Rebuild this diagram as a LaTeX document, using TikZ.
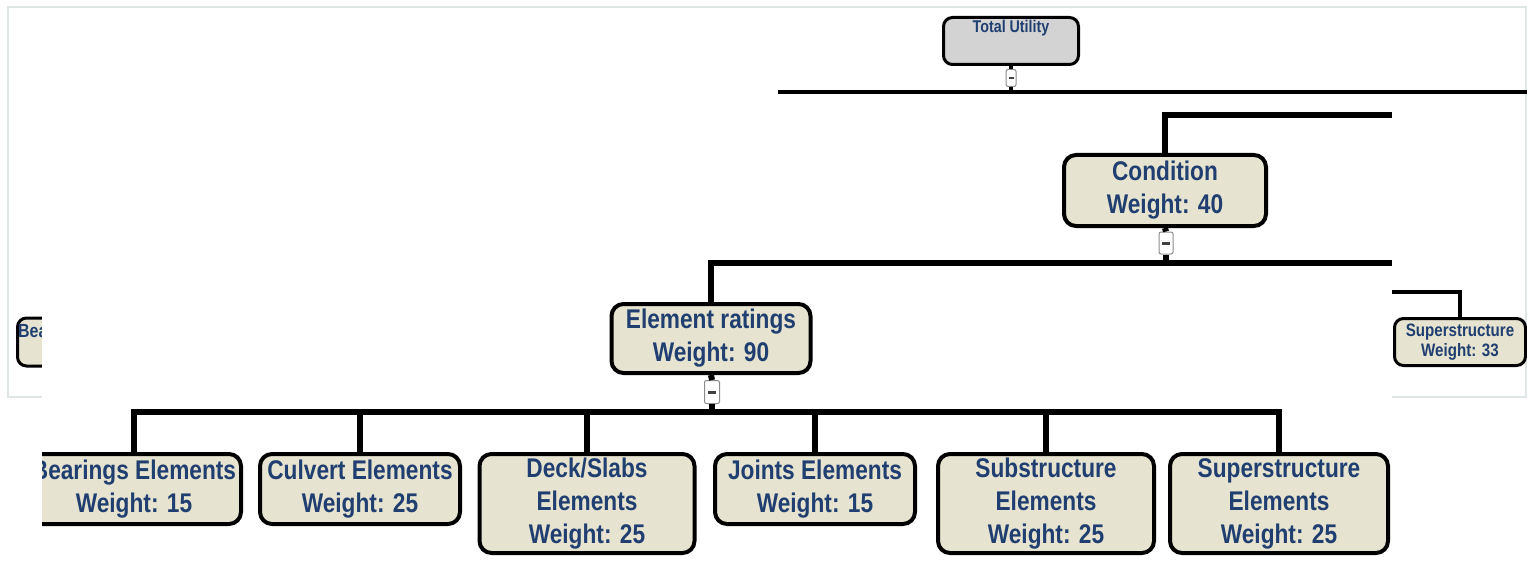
\documentclass[tikz,border=0pt]{standalone}
\usepackage{fontspec}
\newfontfamily\boxfont[FakeStretch=0.84]{Liberation Sans}
\definecolor{boxfill}{RGB}{230,228,208}
\definecolor{tufill}{RGB}{211,211,211}
\definecolor{lblblue}{RGB}{32,62,112}
\definecolor{framegray}{RGB}{222,230,230}
\usetikzlibrary{positioning}

\begin{document}
\begin{tikzpicture}[x=1pt,y=-1pt,
  bignode/.style={draw, line width=4pt, rounded corners=12pt, fill=boxfill, text=lblblue, align=center, inner sep=0pt, font=\boxfont\bfseries\fontsize{27}{33}\selectfont},
  smallnode/.style={draw, line width=3pt, rounded corners=9pt, fill=boxfill, text=lblblue, align=center, inner sep=0pt, font=\boxfont\bfseries\fontsize{18}{20}\selectfont},
  toggle/.style={draw=black!45, line width=1pt, fill=white, rounded corners=2pt, inner sep=0pt},
  thinbar/.style={line width=3.5pt},
  thickbar/.style={line width=6pt}]
\useasboundingbox (0,0) rectangle (1527,567);
\clip (0,0) rectangle (1527,567);

% screenshot behind
\draw[framegray, line width=2pt] (8,7) rectangle (1526,397);
\node[smallnode, fill=tufill, minimum width=135pt, minimum height=47pt] (total) at (1011,41) {};
\node[text=lblblue, inner sep=1pt, font=\boxfont\bfseries\fontsize{17}{20}\selectfont, below=3pt of total.north] (totaltext) {Total Utility};
\node[toggle, minimum width=10pt, minimum height=17pt] (togtotal) at (1011,78) {\color{black!75}\rule{5pt}{2pt}};
\coordinate (tubarL) at (778,92);
\coordinate (tubarR) at (1527,92);
\draw[thinbar] (tubarL) -- (tubarR);
\draw[thinbar] (total.south) -- (togtotal.north);
\draw[thinbar] (togtotal.south) -- (togtotal.south |- tubarL);

\node[smallnode, minimum width=80pt, minimum height=48pt, anchor=west] (bea) at (16,342) {};
\node[text=lblblue, inner sep=0pt, anchor=west, font=\boxfont\bfseries\fontsize{19}{20}\selectfont] (beatext) at (18,331) {Bea};

\node[smallnode, minimum width=131pt, minimum height=47pt] (supsm) at (1460,342) {Superstructure\\Weight: 33};
\coordinate (supsmL) at (1392,292);
\draw[line width=4.5pt] (supsmL) -| (supsm.north);

% zoomed part on top
\begin{scope}
\clip (42,100) rectangle (1392,567);
\fill[white] (42,100) rectangle (1392,567);

\node[bignode, minimum width=202pt, minimum height=71pt] (cond) at (1165,190.5) {Condition\\Weight: 40};
\node[toggle, minimum width=14pt, minimum height=22pt] (togcond) at (1166,243) {\color{black!75}\rule{8pt}{3pt}};
\node[bignode, minimum width=199pt, minimum height=69pt] (er) at (711,338.5) {Element ratings\\Weight: 90};
\node[toggle, minimum width=15pt, minimum height=23pt] (toger) at (712,392) {\color{black!75}\rule{8pt}{3pt}};

\node[bignode, minimum width=214pt, minimum height=70pt] (bear) at (134,489) {Bearings Elements\\Weight: 15};
\node[bignode, minimum width=200pt, minimum height=70pt] (culv) at (360,489) {Culvert Elements\\Weight: 25};
\node[bignode, minimum width=215pt, minimum height=99pt] (deck) at (587,503.5) {Deck/Slabs\\Elements\\Weight: 25};
\node[bignode, minimum width=200pt, minimum height=70pt] (joint) at (815,489) {Joints Elements\\Weight: 15};
\node[bignode, minimum width=216pt, minimum height=99pt] (subel) at (1046,503.5) {Substructure\\Elements\\Weight: 25};
\node[bignode, minimum width=218pt, minimum height=99pt] (supel) at (1279,503.5) {Superstructure\\Elements\\Weight: 25};

\coordinate (condR) at (1392,115);
\coordinate (erbarR) at (1392,263);
\coordinate (elbar) at (712,412);
\draw[thickbar] (cond.north) |- (condR);
\draw[thickbar] (cond.south) -- (togcond.north);
\draw[thickbar] (er.north) |- (erbarR);
\draw[thickbar] (togcond.south) -- (togcond.south |- erbarR);
\draw[thickbar] (er.south) -- (toger.north);
\draw[thickbar] (toger.south) -- (elbar);
\draw[thickbar] (bear.north) |- (elbar) -| (supel.north);
\draw[thickbar] (culv.north) -- (culv.north |- elbar);
\draw[thickbar] (deck.north) -- (deck.north |- elbar);
\draw[thickbar] (joint.north) -- (joint.north |- elbar);
\draw[thickbar] (subel.north) -- (subel.north |- elbar);
\end{scope}
\end{tikzpicture}
\end{document}
